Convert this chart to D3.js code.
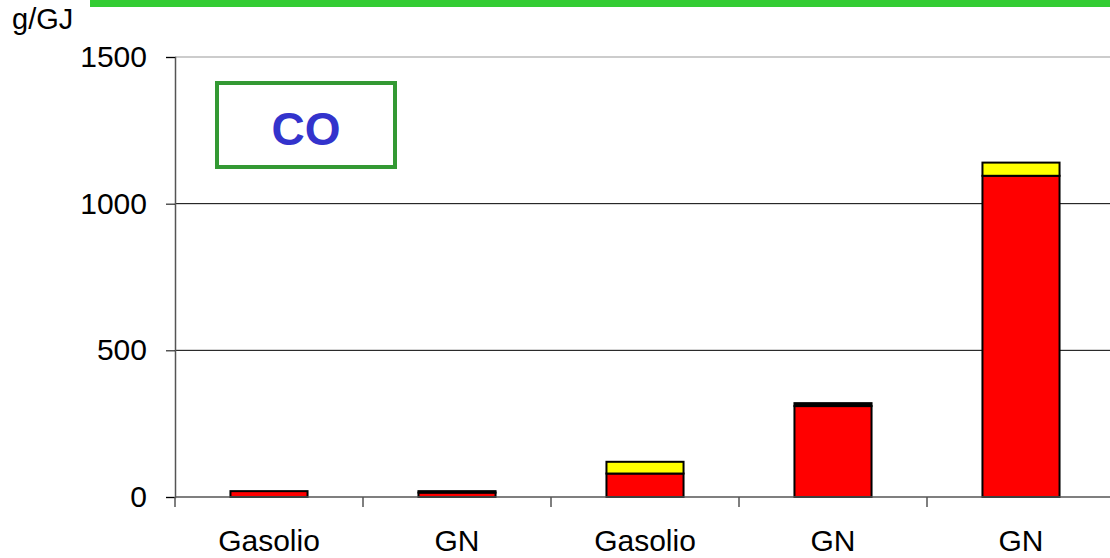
<!DOCTYPE html>
<html>
<head>
<meta charset="utf-8">
<script src="https://cdn.jsdelivr.net/npm/d3@7"></script>
<style>
  body { margin: 0; background: #fff; }
  svg { display: block; font-family: "Liberation Sans", Arial, sans-serif; }
</style>
</head>
<body>
<div id="chart"></div>
<script>
// data
const categories = ["Gasolio", "GN", "Gasolio", "GN", "GN"];
const redValues = [20, 15, 80, 310, 1095];
const yellowValues = [0, 0, 40, 0, 45];
const blackValues = [0, 5, 0, 10, 0];
const yTicks = [0, 500, 1000, 1500];

const width = 1110, height = 558;
const margin = {top: 57, left: 175, bottom: 61};
const bandW = 188;

const svg = d3.select("#chart").append("svg")
    .attr("width", width)
    .attr("height", height);

// green header strip
svg.append("rect")
    .attr("x", 90).attr("y", 0)
    .attr("width", width - 90).attr("height", 7)
    .attr("fill", "#33cc33");

const y = d3.scaleLinear()
    .domain([0, 1500])
    .range([height - margin.bottom, margin.top]);

const x = d3.scaleBand()
    .domain(d3.range(categories.length))
    .range([margin.left, margin.left + bandW * categories.length])
    .paddingInner(0.59)
    .paddingOuter(0.295);

const plotRight = margin.left + bandW * categories.length;

// gridlines
svg.append("g").selectAll("line")
    .data(yTicks.filter(d => d > 0))
    .join("line")
    .attr("x1", margin.left).attr("x2", plotRight)
    .attr("y1", d => y(d)).attr("y2", d => y(d))
    .attr("stroke", d => d === 1500 ? "#999" : "#000")
    .attr("stroke-width", 1);

// y axis
const yAxis = svg.append("g")
    .attr("transform", "translate(" + margin.left + ",0)")
    .call(d3.axisLeft(y).tickValues(yTicks).tickFormat(d3.format("d")).tickSize(9).tickPadding(19));
yAxis.select(".domain").attr("stroke", "#555").attr("stroke-width", 1.5);
yAxis.selectAll(".tick line").attr("stroke", "#000");
yAxis.selectAll("text")
    .attr("font-size", 30)
    .attr("fill", "#000")
    .attr("font-family", "Liberation Sans, Arial, sans-serif");

// unit label
svg.append("text")
    .attr("x", 12).attr("y", 29)
    .attr("font-size", 29)
    .text("g/GJ");

// stacked bars
const rows = categories.map((c, i) => ({i, red: redValues[i], yellow: yellowValues[i], black: blackValues[i]}));
const stack = d3.stack().keys(["red", "yellow", "black"]);
const series = stack(rows);
const colors = {red: "#ff0000", yellow: "#ffff00", black: "#000000"};

svg.append("g").selectAll("g")
    .data(series)
    .join("g")
    .attr("fill", d => colors[d.key])
    .selectAll("rect")
    .data(d => d.filter(s => s[1] > s[0]))
    .join("rect")
    .attr("x", d => x(d.data.i))
    .attr("width", x.bandwidth())
    .attr("y", d => y(d[1]))
    .attr("height", d => y(d[0]) - y(d[1]))
    .attr("stroke", "#000")
    .attr("stroke-width", 2);

// x axis
const xBase = svg.append("g")
    .attr("transform", "translate(0," + y(0) + ")");
xBase.append("line")
    .attr("x1", margin.left).attr("x2", plotRight)
    .attr("stroke", "#555").attr("stroke-width", 1.5);
xBase.selectAll(".xt")
    .data(d3.range(categories.length))
    .join("line")
    .attr("class", "xt")
    .attr("x1", i => margin.left + i * bandW)
    .attr("x2", i => margin.left + i * bandW)
    .attr("y1", 0).attr("y2", 10)
    .attr("stroke", "#555").attr("stroke-width", 1.5);
xBase.selectAll("text")
    .data(categories)
    .join("text")
    .attr("x", (d, i) => x(i) + x.bandwidth() / 2)
    .attr("y", 54)
    .attr("text-anchor", "middle")
    .attr("font-size", 30)
    .text(d => d);

// CO label box
svg.append("rect")
    .attr("x", 217).attr("y", 83)
    .attr("width", 178).attr("height", 84)
    .attr("fill", "#fff")
    .attr("stroke", "#339933")
    .attr("stroke-width", 4);
svg.append("text")
    .attr("x", 306).attr("y", 145)
    .attr("text-anchor", "middle")
    .attr("font-size", 46)
    .attr("font-weight", "bold")
    .attr("fill", "#3333cc")
    .text("CO");
</script>
</body>
</html>
